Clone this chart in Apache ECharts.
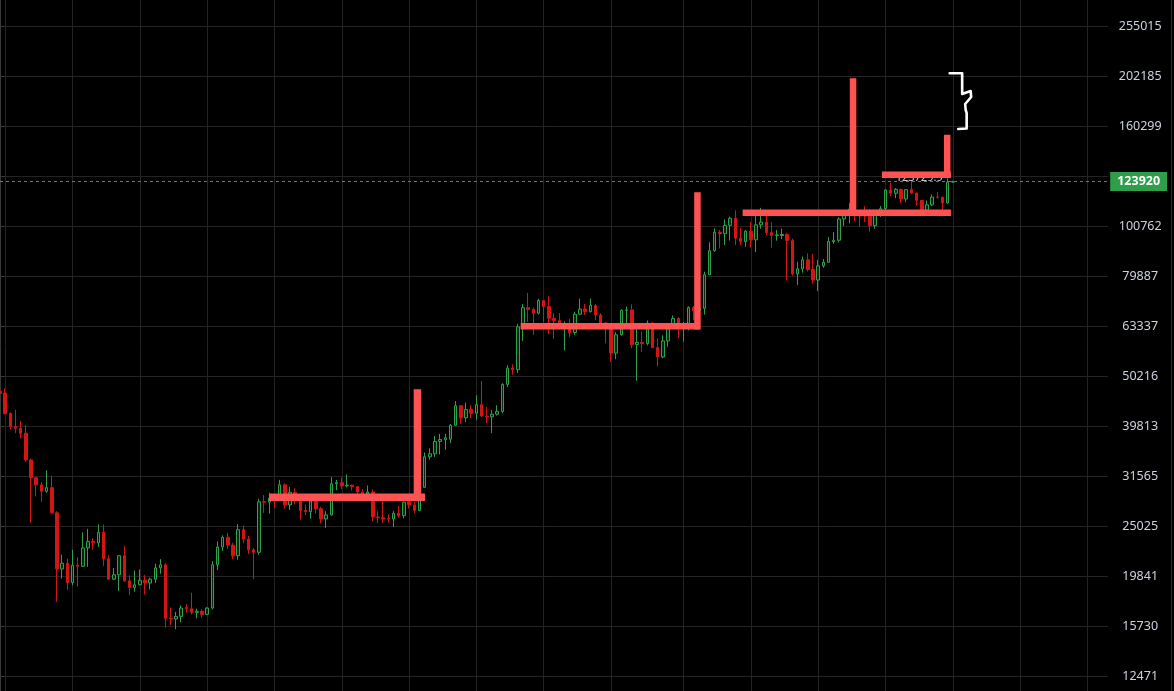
<!DOCTYPE html>
<html><head><meta charset="utf-8">
<script src="https://cdn.jsdelivr.net/npm/echarts@6/dist/echarts.min.js"></script>
<style>html,body{margin:0;padding:0;background:#000;overflow:hidden}#chart{width:1174px;height:691px}</style>
</head><body><div id="chart"></div>
<script>
// ---- data ----
const firstWeekUTC = [2022, 2, 28];
const slotCount = 215;
const open = [46800,46400,42200,39700,39400,38500,34000,31300,30300,29400,29900,26600,20500,21050,19250,20850,20750,22600,23300,23150,24300,21500,19550,19950,21800,19400,18800,19050,19450,19200,19550,20600,20900,16300,16250,16450,17150,17050,16750,16850,16600,17100,20900,22700,23750,22900,21800,24600,23550,22400,22150,28000,27950,28450,28350,30300,27600,29250,28450,26900,26750,28100,27100,25850,26350,30450,30600,30150,30250,30050,29300,29050,29300,26100,26000,25950,25850,26550,26250,28000,27600,26900,29950,34500,35000,37050,37350,37450,39950,43750,41350,43000,42250,43950,41700,41550,42050,42600,48300,52100,51700,63100,68950,68400,67200,71300,69350,65650,64950,63400,64000,61450,66900,68500,67750,69650,66650,64250,62700,55850,60800,68150,68250,58100,58700,58400,64200,57300,54850,59100,63300,65600,62800,62900,69000,67950,68750,80350,89850,97900,97250,101100,104450,95200,93700,98350,94500,101300,102600,97700,96450,96400,96850,94250,80700,82600,86100,82350,78400,83750,85150,93750,94300,104100,106450,109000,105700,105600,105500,100950,108350,109200,119100,117300,119450,114200,119300,117400,113500,108250,111150,115300,115150,112150,123500];
const close = [46300,42200,39700,39400,38500,34000,31300,30300,29400,29900,26600,20500,21050,19250,20850,20750,22600,23300,23150,24300,21500,19550,19950,21800,19400,18800,19050,19450,19200,19550,20600,20900,16300,16250,16450,17100,17050,16750,16850,16600,17100,20900,22700,23750,22900,21800,24600,23550,22400,22150,28000,27950,28450,28350,30300,27600,29250,28450,26900,26750,28100,27100,25850,26350,30450,30600,30150,30250,30050,29300,29050,29300,26100,26000,25850,25850,26550,26250,27950,27600,26900,29950,34500,35000,37050,37400,37700,39950,43750,41350,43000,42250,43950,41700,41550,42050,42600,48300,52100,51700,63100,68950,68400,67200,71300,69350,65650,64950,63400,64000,61450,66900,68500,67750,69650,66650,64250,62700,55850,60800,68150,68250,58100,58700,58400,64200,57300,54850,59100,63300,65600,62800,62900,69000,67950,68750,80350,89850,97900,97250,101100,104450,95200,93700,98350,94500,101300,102600,97700,96450,96650,96850,94250,80700,82600,86100,82350,78400,83750,85150,93750,94300,104100,106450,109000,105700,105600,105500,100950,108350,109200,119100,117300,119450,114200,119300,117400,113500,108250,111150,115250,115150,112150,123500,123920];
const low = [45100,42000,39200,38500,37600,33700,25400,28700,28000,29200,26500,17600,19600,18600,19000,18900,20700,20700,22400,22700,20800,19500,19500,18500,19300,18150,18450,19000,18200,18650,19200,20050,15600,15800,15500,16000,16750,16600,16300,16350,16550,17000,20400,22300,22500,21450,21400,23100,21950,19550,21900,26600,26500,27250,28150,27150,26950,27700,25800,26350,25900,26500,25350,24800,26250,29550,29700,29950,29500,28900,28600,28700,25600,25350,25400,25400,24900,26000,25950,27150,26550,26800,29850,34050,34500,34900,35650,36800,39900,40200,40550,41300,41000,41500,40300,38500,41800,42250,47700,50550,50900,59100,64550,60750,66800,64500,61000,59650,62400,56550,60200,60750,66600,66650,67400,65100,63350,58450,53550,54300,60600,63450,57150,49100,56150,57900,57150,52550,54550,57500,62650,59850,58900,62050,65050,67450,66800,80200,89400,90800,92200,94200,92200,92200,91500,91200,89250,99500,96500,91200,94100,94800,78250,80000,76600,81150,81600,77150,74500,83000,85000,92800,93400,100700,102000,103100,100400,102700,98200,99600,105100,107450,115700,114700,112000,112650,116800,110700,107300,107250,110600,114400,108600,111600,123350];
const high = [48100,47400,42400,42900,40800,40000,34200,31400,30700,32400,31600,26800,21900,21500,22400,21650,24300,24700,23650,25200,25200,21850,20600,21850,22800,19900,20350,20450,19950,19700,21000,21450,21050,17150,16800,17300,17400,18350,17050,17000,17150,21250,23300,23950,24250,23150,25250,25100,23900,22600,28400,28900,29200,28900,31000,30500,30000,29800,28650,27650,28250,28450,27350,26800,31400,31000,31350,31800,30350,30100,29700,30200,29650,26800,28150,26400,26850,27450,28050,28600,28000,30000,35200,35900,38000,38400,38400,40200,44700,43800,44400,43850,45900,49050,43550,42850,43850,48550,52800,53000,64000,70100,73800,68950,71800,71400,72750,67200,67250,64700,65500,67700,71950,70150,71950,70200,67250,64500,63800,61550,68400,69300,70050,62500,61750,65000,64500,59800,60650,64100,66500,65950,64500,69400,69500,73600,81500,93450,99600,98900,103900,105250,108350,99950,98950,102700,106400,109600,106450,102500,98850,99500,97600,95000,85300,87450,88750,88500,86100,86450,95750,97900,104950,106650,111950,110400,106800,110500,108900,108500,110550,119500,123200,120250,119800,119450,124450,117600,113650,113400,116650,117900,115400,125700,124300];
const gridTicks = [12471,15730,19841,25025,31565,39813,50216,63337,79887,100762,127090,160299,202185,255015];
const tickLabels = ['12471','15730','19841','25025','31565','39813','50216','63337','79887','100762','160299','202185','255015'];
const lastPrice = 123920;
const noteText = '123729.9';
const notePoint = [177.5, 125900];
// drawn annotation segments: [week index, price]
const thickLines = [
  [[52.66,28592],[81.34,28592]],
  [[80.61,28592],[80.61,46405]],
  [[101.17,63250],[134.30,63250]],
  [[134.68,63250],[134.68,116095]],
  [[144.04,107128],[183.0,107128]],
  [[164.73,107128],[164.73,197090]],
  [[170.94,127800],[183.0,127800]],
  [[182.91,127800],[182.91,151612]]
];
const bracket = [[183.39,204740],[185.8,204740],[185.8,185970],[187.44,188580],[187.54,183400],[186.38,177540],[186.48,172660],[186.67,170270],[186.67,158450],[185.03,158080]];

// ---- build ----
const weeks = [];
for (let k = 0; k < slotCount; k++) {
  const d = new Date(Date.UTC(firstWeekUTC[0], firstWeekUTC[1], firstWeekUTC[2] + 7 * k));
  weeks.push(d.toISOString().slice(0, 10));
}
const candles = open.map((o, k) => [o, close[k], low[k], high[k]]);
const labelValues = gridTicks.filter(v => tickLabels.includes(String(v)));

const RED = '#d21616', GREEN = '#2fa14c', MARK = '#ff5252';
const series = [{
  type: 'candlestick',
  xAxisIndex: 0, yAxisIndex: 0,
  data: candles,
  barWidth: 3,
  itemStyle: { color: '#0b2412', color0: RED, borderColor: GREEN, borderColor0: RED, borderWidth: 1 },
  markLine: {
    silent: true, symbol: ['none', 'none'], animation: false,
    lineStyle: { color: GREEN, type: [3, 3], width: 1 },
    label: { show: true, position: 'end', distance: 2, formatter: String(lastPrice), color: '#fff',
      backgroundColor: '#2e9e4b', padding: [3, 7, 3, 7], fontSize: 12.5, fontFamily: 'Noto Sans', fontWeight: 'bold' },
    data: [{ yAxis: lastPrice }]
  },
  z: 2
}, {
  type: 'scatter', xAxisIndex: 1, yAxisIndex: 0, silent: true,
  data: [notePoint], symbolSize: 0,
  label: { show: true, position: 'inside', formatter: noteText, color: '#fff', fontSize: 11, fontFamily: 'Noto Sans' },
  z: 3
}];
thickLines.forEach((seg, k) => series.push({
  type: 'line', xAxisIndex: 1, yAxisIndex: 0, silent: true, data: seg, symbol: 'none',
  lineStyle: { color: MARK, width: k < 2 ? 7.5 : 6.5, cap: 'square' }, z: 5
}));
series.push({
  type: 'line', xAxisIndex: 1, yAxisIndex: 0, silent: true, data: bracket, symbol: 'none',
  lineStyle: { color: '#fff', width: 2.6, cap: 'round', join: 'round' }, z: 5
});

const chart = echarts.init(document.getElementById('chart'), null, { renderer: 'canvas' });
chart.setOption({
  backgroundColor: '#000',
  animation: false,
  grid: { left: -1.184, right: 65.81, top: 0, bottom: 0 },
  graphic: [{ type: 'line', shape: { x1: 1171.5, y1: 0, x2: 1171.5, y2: 691 }, style: { stroke: '#2a2a2a', lineWidth: 1 }, silent: true }],
  xAxis: [{
    type: 'category', data: weeks, boundaryGap: false,
    axisLine: { show: false }, axisTick: { show: false }, axisLabel: { show: false },
    splitLine: { show: true, lineStyle: { color: '#242424', width: 1 },
      interval: (idx, val) => { const d = new Date(val + 'T00:00:00Z'); return [0, 3, 6, 9].includes(d.getUTCMonth()) && d.getUTCDate() <= 7; } }
  }, {
    type: 'value', min: 0, max: slotCount - 1, show: false
  }],
  yAxis: [{
    type: 'log', logBase: 10, min: 11632, max: 287740, position: 'right',
    axisLine: { show: true, lineStyle: { color: '#3a3a3a' } },
    axisTick: { show: true, length: 5, customValues: gridTicks, lineStyle: { color: '#3a3a3a' } },
    axisLabel: { customValues: labelValues, margin: 32, align: 'center', color: '#cdd2de', fontSize: 12.5,
      fontFamily: 'Noto Sans', formatter: v => String(Math.round(v)) },
    splitLine: { show: true, lineStyle: { color: '#242424', width: 1 } }
  }],
  series: series
});
</script></body></html>
